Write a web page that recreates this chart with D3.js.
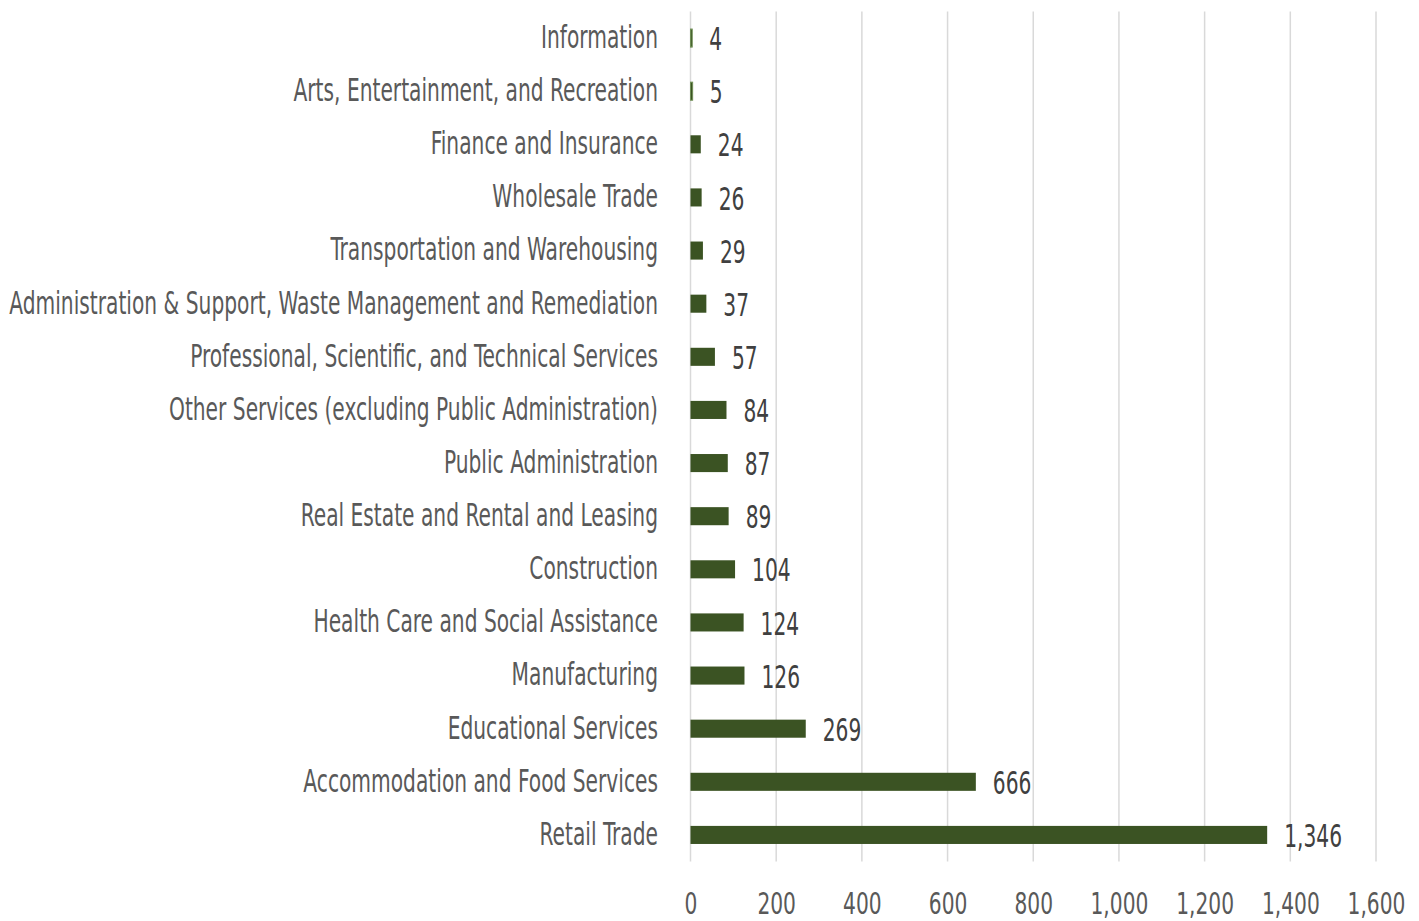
<!DOCTYPE html>
<html>
<head>
<meta charset="utf-8">
<script src="https://cdn.jsdelivr.net/npm/d3@7"></script>
<style>
  html, body { margin: 0; padding: 0; background: #ffffff; }
  svg text { font-family: "DejaVu Sans Condensed", "DejaVu Sans", sans-serif; }
</style>
</head>
<body>
<svg id="chart" width="1419" height="921"></svg>
<script>
// Employees by industry sector
const categories = [
  "Information",
  "Arts, Entertainment, and Recreation",
  "Finance and Insurance",
  "Wholesale Trade",
  "Transportation and Warehousing",
  "Administration & Support, Waste Management and Remediation",
  "Professional, Scientific, and Technical Services",
  "Other Services (excluding Public Administration)",
  "Public Administration",
  "Real Estate and Rental and Leasing",
  "Construction",
  "Health Care and Social Assistance",
  "Manufacturing",
  "Educational Services",
  "Accommodation and Food Services",
  "Retail Trade"
];
const values = [4, 5, 24, 26, 29, 37, 57, 84, 87, 89, 104, 124, 126, 269, 666, 1346];
const tickValues = [0, 200, 400, 600, 800, 1000, 1200, 1400, 1600];

const svg = d3.select("#chart");
const plotLeft = 690.5, plotRight = 1376, plotTop = 11.5, plotBottom = 861.5;
const fontSize = 32;
const tickFontSize = 30;
const labelRoom = 649;   // widest category label fits between x=9 and x=658

const x = d3.scaleLinear().domain([0, 1600]).range([plotLeft, plotRight]);
const y = d3.scaleBand().domain(categories).range([plotTop, plotBottom]).paddingInner(0.66).paddingOuter(0.33);

const fmt = d3.format(",");

// vertical gridlines
svg.append("g")
  .selectAll("line")
  .data(tickValues)
  .join("line")
  .attr("x1", d => x(d)).attr("x2", d => x(d))
  .attr("y1", plotTop).attr("y2", plotBottom)
  .attr("stroke", "#d9d9d9").attr("stroke-width", 1.5);

// x axis labels
const xAxis = d3.axisBottom(x).tickValues(tickValues).tickFormat(fmt).tickSize(0).tickPadding(0);
const gx = svg.append("g").attr("transform", `translate(0, 913.5)`).call(xAxis);
gx.select(".domain").remove();
gx.attr("font-family", null).attr("font-size", null);
gx.selectAll("text")
  .attr("y", 0).attr("dy", 0)
  .attr("font-size", tickFontSize).attr("fill", "#595959");

// y axis labels
const yAxis = d3.axisLeft(y).tickSize(0).tickPadding(32.5);
const gy = svg.append("g").attr("transform", `translate(${plotLeft}, 0)`).call(yAxis);
gy.select(".domain").remove();
gy.attr("font-family", null).attr("font-size", null);
gy.selectAll("text")
  .attr("dy", "0.31em")
  .attr("font-size", fontSize).attr("fill", "#595959");

// bars
const data = categories.map((c, i) => ({ c, v: values[i] }));
svg.append("g")
  .selectAll("rect")
  .data(data)
  .join("rect")
  .attr("x", x(0))
  .attr("y", d => y(d.c))
  .attr("width", d => x(d.v) - x(0))
  .attr("height", y.bandwidth())
  .attr("fill", "#3b5323")
  .attr("stroke", d => d.v < 10 ? "#6f8f55" : "none")
  .attr("stroke-width", 1);

// value labels
const valueLabels = svg.append("g")
  .selectAll("text")
  .data(data)
  .join("text")
  .attr("x", d => x(d.v) + 17)
  .attr("y", d => y(d.c) + y.bandwidth() / 2)
  .attr("dy", "0.38em")
  .attr("font-size", fontSize)
  .attr("fill", "#404040")
  .text(d => fmt(d.v));

// narrow all text horizontally so the widest category label fits its room
let widest = 0;
gy.selectAll("text").each(function () { widest = Math.max(widest, this.getComputedTextLength()); });
const sx = labelRoom / widest;

function squeeze(sel, k) {
  sel.each(function () {
    const ax = +this.getAttribute("x") || 0;
    d3.select(this).attr("transform", `translate(${ax * (1 - k)},0) scale(${k},1)`);
  });
}
squeeze(gy.selectAll("text"), sx);
squeeze(gx.selectAll("text"), sx * fontSize / tickFontSize);
squeeze(valueLabels, sx);
</script>
</body>
</html>
